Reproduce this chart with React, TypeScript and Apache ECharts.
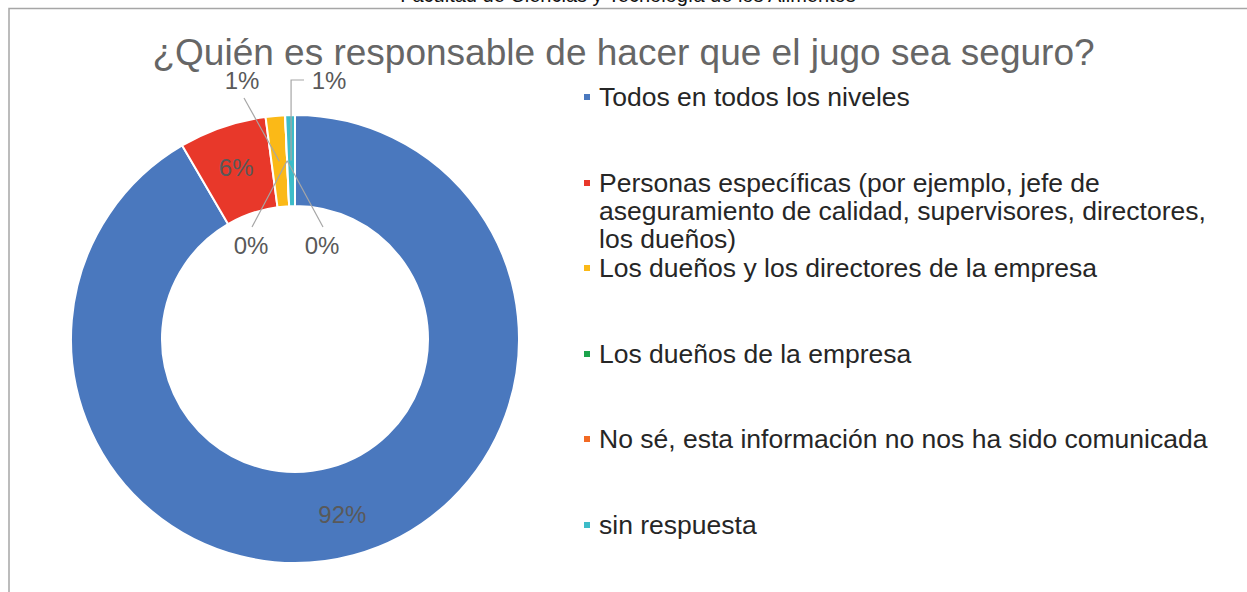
import React, { useEffect, useRef } from 'react';
import * as echarts from 'echarts';

const titleText = '¿Quién es responsable de hacer que el jugo sea seguro?';
const headerText = 'Facultad de Ciencias y Tecnología de los Alimentos';

const categories = [
  'Todos en todos los niveles',
  'Personas específicas (por ejemplo, jefe de aseguramiento de calidad, supervisores, directores, los dueños)',
  'Los dueños y los directores de la empresa',
  'Los dueños de la empresa',
  'No sé, esta información no nos ha sido comunicada',
  'sin respuesta',
];
const legendLines = [
  ['Todos en todos los niveles'],
  ['Personas específicas (por ejemplo, jefe de', 'aseguramiento de calidad, supervisores, directores,', 'los dueños)'],
  ['Los dueños y los directores de la empresa'],
  ['Los dueños de la empresa'],
  ['No sé, esta información no nos ha sido comunicada'],
  ['sin respuesta'],
];
const values = [91.6, 6.3, 1.4, 0, 0, 0.7];
const colors = ['#4A78BE', '#E8382A', '#FBB917', '#1BA34B', '#F26A24', '#3DBCC8'];

const FONT = '"Liberation Sans", Arial, sans-serif';
const CX = 295;
const CY = 339;
const R0 = 133;
const R1 = 224;

// vertical centre of each legend entry's first line
const legendCenters = [97, 183, 268, 354, 439, 525];
const LEGEND_LH = 28;

// manual placement of the small-slice labels (text centre + leader start)
const labelSpots: Record<number, { text: [number, number]; line: (a: number[]) => number[][] }> = {
  2: { text: [242, 80], line: (a) => [[244, 98], a] },
  3: { text: [251, 245], line: (a) => [[252, 227], a] },
  4: { text: [322, 245], line: (a) => [[323, 227], a] },
  5: { text: [329, 80], line: (a) => [[304, 80], [a[0], 80], a] },
};

function anchorPoint(i: number): number[] {
  const total = values.reduce((s, v) => s + v, 0);
  let before = 0;
  for (let k = 0; k < i; k++) before += values[k];
  const f = (before + values[i] / 2) / total;
  const th = f * Math.PI * 2;
  const r = (R0 + R1) / 2;
  return [CX + r * Math.sin(th), CY - r * Math.cos(th)];
}

export default function App() {
  const ref = useRef<HTMLDivElement>(null);
  useEffect(() => {
    if (!ref.current) return;
    const chart = echarts.init(ref.current, undefined, { renderer: 'svg' });
    const total = values.reduce((s, v) => s + v, 0);
    const isBig = (i: number) => values[i] / total >= 0.05;

    const legends = categories.map((name, i) => {
      const lines = legendLines[i];
      const txt = lines.length > 1 ? '\n'.repeat(lines.length - 1) + lines.join('\n') : lines[0];
      const nLines = lines.length > 1 ? 2 * lines.length - 1 : 1;
      const h = nLines * LEGEND_LH;
      return {
        orient: 'vertical',
        left: 582,
        top: legendCenters[i] - h / 2,
        padding: 0,
        data: [{ name, itemStyle: { color: colors[i] } }],
        icon: 'rect',
        itemWidth: 8,
        itemHeight: 8,
        selectedMode: false,
        formatter: () => txt,
        textStyle: {
          fontFamily: FONT,
          fontSize: 26.5,
          lineHeight: LEGEND_LH,
          color: '#262626',
          padding: [0, 0, 0, 3],
        },
      };
    });

    const labelText = {
      fontFamily: FONT,
      fontSize: 24,
      lineHeight: 20,
      color: '#595959',
      formatter: (p: any) => Math.round(p.percent) + '%',
    };

    chart.setOption({
      animation: false,
      backgroundColor: '#ffffff',
      title: {
        text: titleText,
        left: 'center',
        top: 35,
        padding: 0,
        textStyle: {
          fontFamily: FONT,
          fontSize: 37,
          lineHeight: 34,
          fontWeight: 'normal',
          color: '#666666',
        },
      },
      legend: legends,
      graphic: [
        {
          type: 'rect',
          shape: { x: 9, y: 8.5, width: 1400, height: 800 },
          style: { fill: 'none', stroke: '#a6a6a6', lineWidth: 1.5 },
          silent: true,
          z: -1,
        },
        {
          type: 'text',
          x: 628,
          y: 5,
          style: {
            text: headerText,
            fontFamily: FONT,
            fontSize: 20,
            fill: '#111111',
            align: 'center',
            verticalAlign: 'bottom',
          },
          silent: true,
        },
      ],
      series: [
        {
          type: 'pie',
          name: 'slices',
          z: 2,
          center: [CX, CY],
          radius: [R0, R1],
          startAngle: 90,
          clockwise: true,
          avoidLabelOverlap: false,
          emphasis: { disabled: true },
          itemStyle: { borderColor: '#ffffff', borderWidth: 2 },
          labelLine: { show: false },
          label: { ...labelText, position: 'inside' },
          data: categories.map((name, i) => ({
            name,
            value: values[i],
            itemStyle: { color: colors[i] },
            label: { show: isBig(i) },
          })),
        },
        {
          type: 'pie',
          name: 'leaders',
          z: 3,
          silent: true,
          legendHoverLink: false,
          center: [CX, CY],
          radius: [R0, R1],
          startAngle: 90,
          clockwise: true,
          avoidLabelOverlap: false,
          emphasis: { disabled: true },
          itemStyle: { color: 'rgba(0,0,0,0)', borderWidth: 0 },
          labelLine: {
            show: true,
            showAbove: true,
            length: 10,
            length2: 10,
            lineStyle: { color: '#a6a6a6', width: 1.2 },
          },
          label: { ...labelText, position: 'outside' },
          labelLayout: (params: any) => {
            const spot = labelSpots[params.dataIndex];
            if (!spot) return {};
            const a = anchorPoint(params.dataIndex);
            return {
              x: spot.text[0],
              y: spot.text[1],
              align: 'center',
              verticalAlign: 'middle',
              labelLinePoints: spot.line(a),
            };
          },
          data: categories.map((name, i) => ({
            name,
            value: values[i],
            label: { show: !isBig(i) },
            labelLine: { show: !isBig(i) },
          })),
        },
      ],
    });
    return () => chart.dispose();
  }, []);
  return (
    <div
      ref={ref}
      style={{ position: 'fixed', left: 0, top: 0, width: 1247, height: 592 }}
    />
  );
}
